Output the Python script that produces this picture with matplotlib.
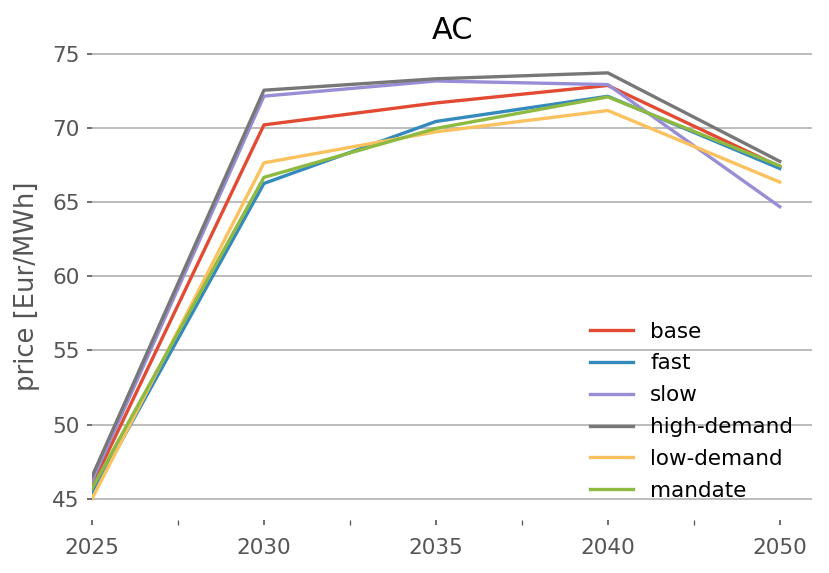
import numpy as np
import matplotlib
matplotlib.use('Agg')
import matplotlib.pyplot as plt
from matplotlib import rcParams

rcParams['font.family'] = ['DejaVu Sans']
rcParams['font.size'] = 10.3

# years on the x axis (evenly spaced positions)
years = ['2025', '2030', '2035', '2040', '2050']

# price [Eur/MWh] per scenario
base = [45.9, 70.22, 71.7, 72.88, 67.4]
fast = [45.3, 66.27, 70.45, 72.15, 67.28]
slow = [46.2, 72.16, 73.18, 72.94, 64.7]
high_demand = [46.5, 72.56, 73.33, 73.73, 67.76]
low_demand = [45.0, 67.66, 69.75, 71.19, 66.36]
mandate = [45.7, 66.68, 69.98, 72.11, 67.46]

series = {
    'base': base,
    'fast': fast,
    'slow': slow,
    'high-demand': high_demand,
    'low-demand': low_demand,
    'mandate': mandate,
}
colors = ['#E24A33', '#348ABD', '#988ED5', '#777777', '#FBC15E', '#8EBA42']

fig = plt.figure(figsize=(8.29 / 1.5, 5.73 / 1.5), dpi=150)
ax = fig.add_axes([0.111, 0.0925, 0.869, 0.8175])

x = np.arange(len(years))
for (name, vals), c in zip(series.items(), colors):
    ax.plot(x, vals, color=c, lw=1.6, label=name)

ax.set_xticks(x)
ax.set_xticklabels(years)
ax.set_xticks(x[:-1] + 0.5, minor=True)
ax.set_xlim(0, 4.19)
ax.margins(y=0.05)

ax.set_yticks([45, 50, 55, 60, 65, 70, 75])
ax.grid(axis='y', color='#b0b0b0', lw=0.8)
ax.set_axisbelow(True)
for s in ax.spines.values():
    s.set_visible(False)

ax.tick_params(axis='both', which='both', colors='#555555', length=2.5, labelsize=10.3)
ax.tick_params(axis='x', which='both', pad=6)
ax.set_ylabel('price [Eur/MWh]', color='#555555', fontsize=12.4, labelpad=6)
ax.set_title('AC', fontsize=14.6)

ax.legend(loc='lower right', frameon=False, fontsize=10.3, labelspacing=0.55,
          borderaxespad=0.5)

fig.savefig('out.png', dpi=150)
